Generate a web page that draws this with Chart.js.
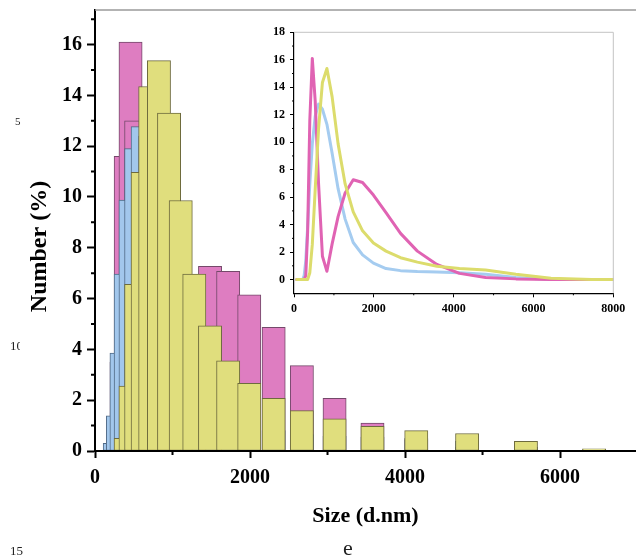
<!DOCTYPE html>
<html>
<head>
<meta charset="utf-8">
<script src="https://cdn.jsdelivr.net/npm/chart.js@4.4.1/dist/chart.umd.min.js"></script>
<style>
  body { margin: 0; background: #fff; }
  #wrap { position: relative; width: 636px; height: 556px; overflow: hidden; }
  #main { position: absolute; left: 0; top: 0; }
  #inset { position: absolute; left: 250px; top: 22px; }
  .stray { position: absolute; font-family: "Liberation Serif", serif; line-height: 1; color: #222; white-space: nowrap; overflow: hidden; }
</style>
</head>
<body>
<div id="wrap">
  <canvas id="main" width="636" height="556"></canvas>
  <canvas id="inset" width="380" height="300"></canvas>
  <div class="stray" style="left:15px; top:116px; font-size:11px;">5</div>
  <div class="stray" style="left:10px; top:339px; font-size:13px; width:10px;">10</div>
  <div class="stray" style="left:10px; top:544px; font-size:13px;">15</div>
  <div class="stray" style="left:343px; top:537px; font-size:22px;">e</div>
</div>
<script>
Chart.defaults.font.family = '"Liberation Serif", "Times New Roman", serif';
Chart.defaults.color = '#000';

// size classes (d.nm)
const sizes = [68.06, 78.82, 91.28, 105.7, 122.4, 141.8, 164.2, 190.1, 220.2,
    255.0, 295.3, 342.0, 396.1, 458.7, 531.2, 615.1, 712.4, 825.0, 955.4, 1106,
    1281, 1484, 1718, 1990, 2305, 2669, 3091, 3580, 4145, 4801, 5560, 6439, 7456, 8635];

// number (%) for the three samples
const numberPink = [0, 0, 0, 0, 0, 0, 0, 0, 0,
    0, 0.3, 3.5, 11.6, 16.1, 13.0, 7.0, 1.7, 0.6, 2.6, 4.6,
    6.3, 7.27, 7.07, 6.15, 4.87, 3.36, 2.07, 1.10, 0.45, 0.15, 0.05, 0, 0, 0];
const numberBlue = [0, 0, 0, 0, 0, 0, 0, 0, 0,
    0.3, 1.38, 3.85, 6.96, 9.88, 11.9, 12.77, 12.4, 11.3, 9.2, 6.6,
    4.4, 2.7, 1.8, 1.2, 0.8, 0.65, 0.58, 0.55, 0.5, 0.38, 0.15, 0, 0, 0];
const numberYellow = [0, 0, 0, 0, 0, 0, 0, 0, 0,
    0, 0, 0, 0.5, 2.56, 6.56, 10.97, 14.35, 15.37, 13.3, 9.86,
    6.96, 4.93, 3.55, 2.66, 2.07, 1.59, 1.27, 0.97, 0.80, 0.69, 0.38, 0.09, 0, 0];

// ticks
const mainXTicks = [0, 2000, 4000, 6000];
const mainXMinor = [1000, 3000, 5000];
const mainYTicks = [0, 2, 4, 6, 8, 10, 12, 14, 16];
const mainYMinor = [1, 3, 5, 7, 9, 11, 13, 15, 17];
const insetXTicks = [0, 2000, 4000, 6000, 8000];
const insetXMinor = [1000, 3000, 5000, 7000];
const insetYTicks = [0, 2, 4, 6, 8, 10, 12, 14, 16, 18];
const insetYMinor = [1, 3, 5, 7, 9, 11, 13, 15, 17];

const pink = { fill: '#de7dc1', edge: '#74496a', line: '#e063b3' };
const blue = { fill: '#a2c7ec', edge: '#506a86', line: '#a5ccf0' };
const yellow = { fill: '#e0de7d', edge: '#6e6b3e', line: '#dcdc6c' };

function points(vals) {
    return sizes.map((s, i) => ({ x: s, y: vals[i] }));
}

function barSet(vals, c, order) {
    return {
        data: points(vals).filter(p => p.y > 0),
        backgroundColor: c.fill,
        borderColor: c.edge,
        borderWidth: 1,
        borderSkipped: false,
        barThickness: 23.25,   // ~300 nm wide
        grouped: false,
        order: order
    };
}

function lineSet(vals, c, order) {
    return {
        data: points(vals),
        borderColor: c.line,
        borderWidth: 3,
        pointRadius: 0,
        fill: false,
        tension: 0,
        borderCapStyle: 'round',
        borderJoinStyle: 'round',
        order: order
    };
}

function setTicks(list) {
    return scale => { scale.ticks = list.map(v => ({ value: v })); };
}

// minor ticks, grey frame on top/right
function extras(xMinor, yMinor, len, width, frame) {
    return {
        id: 'extras',
        afterDraw(chart) {
            const { ctx, chartArea: a, scales: { x, y } } = chart;
            ctx.save();
            ctx.strokeStyle = frame.color;
            ctx.lineWidth = frame.width;
            ctx.beginPath();
            ctx.moveTo(a.left, a.top);
            ctx.lineTo(a.right, a.top);
            if (frame.right) ctx.lineTo(a.right, a.bottom);
            ctx.stroke();

            ctx.strokeStyle = '#000';
            ctx.lineWidth = width;
            ctx.beginPath();
            yMinor.forEach(v => {
                const p = y.getPixelForValue(v);
                ctx.moveTo(a.left - len, p);
                ctx.lineTo(a.left, p);
            });
            xMinor.forEach(v => {
                const p = x.getPixelForValue(v);
                ctx.moveTo(p, a.bottom);
                ctx.lineTo(p, a.bottom + len);
            });
            ctx.stroke();
            ctx.restore();
        }
    };
}

const yTitle = {
    id: 'yTitle',
    afterDraw(chart) {
        const ctx = chart.ctx;
        ctx.save();
        ctx.translate(39.5, 246.5);
        ctx.rotate(-Math.PI / 2);
        ctx.font = 'bold 24px "Liberation Serif", serif';
        ctx.fillStyle = '#000';
        ctx.textAlign = 'center';
        ctx.textBaseline = 'middle';
        ctx.fillText('Number (%)', 0, 0);
        ctx.restore();
    }
};

const bigFont = { size: 20, weight: 'bold' };

new Chart(document.getElementById('main'), {
    type: 'bar',
    data: {
        datasets: [
            barSet(numberPink, pink, 3),
            barSet(numberBlue, blue, 2),
            barSet(numberYellow, yellow, 1)
        ]
    },
    options: {
        responsive: false,
        animation: false,
        layout: { padding: { top: 10, left: 0, right: 0, bottom: 0 } },
        plugins: { legend: { display: false }, tooltip: { enabled: false } },
        scales: {
            x: {
                type: 'linear',
                min: 0,
                max: 6980,
                offset: false,
                afterBuildTicks: setTicks(mainXTicks),
                afterFit: s => { s.height = 105; s.paddingLeft = 0; s.paddingRight = 0; },
                ticks: { font: bigFont, padding: 8, maxRotation: 0, callback: v => v },
                grid: { offset: false, drawOnChartArea: false, tickLength: 7, tickWidth: 2, tickColor: '#000' },
                border: { color: '#000', width: 2, z: 1 },
                title: {
                    display: true,
                    text: 'Size (d.nm)',
                    font: { size: 22, weight: 'bold' },
                    padding: { top: 0, bottom: 26 }
                }
            },
            y: {
                min: 0,
                max: 17.36,
                afterBuildTicks: setTicks(mainYTicks),
                afterFit: s => { s.width = 95; s.paddingTop = 0; s.paddingBottom = 0; },
                ticks: { font: bigFont, padding: 5, callback: v => v },
                grid: { drawOnChartArea: false, tickLength: 8, tickWidth: 2, tickColor: '#000' },
                border: { color: '#000', width: 2, z: 1 }
            }
        }
    },
    plugins: [extras(mainXMinor, mainYMinor, 4, 2, { color: '#9a9a9a', width: 1.5, right: false }), yTitle]
});

const smallFont = { size: 12, weight: 'bold' };

new Chart(document.getElementById('inset'), {
    type: 'line',
    data: {
        datasets: [
            lineSet(numberBlue, blue, 3),
            lineSet(numberPink, pink, 2),
            lineSet(numberYellow, yellow, 1)
        ]
    },
    options: {
        responsive: false,
        animation: false,
        layout: { padding: { top: 10.3, left: 0, right: 16.7, bottom: 0 } },
        plugins: { legend: { display: false }, tooltip: { enabled: false } },
        scales: {
            x: {
                type: 'linear',
                min: 0,
                max: 8000,
                afterBuildTicks: setTicks(insetXTicks),
                afterFit: s => { s.height = 28.7; s.paddingLeft = 0; s.paddingRight = 0; },
                ticks: { font: smallFont, padding: 4.5, maxRotation: 0, callback: v => v },
                grid: { drawOnChartArea: false, tickLength: 4, tickWidth: 1, tickColor: '#000' },
                border: { color: '#000', width: 1.2, z: 1 }
            },
            y: {
                min: -1,
                max: 18,
                afterBuildTicks: setTicks(insetYTicks),
                afterFit: s => { s.width = 44; s.paddingTop = 0; s.paddingBottom = 0; },
                ticks: { font: smallFont, padding: 5, callback: v => v },
                grid: { drawOnChartArea: false, tickLength: 4, tickWidth: 1, tickColor: '#000' },
                border: { color: '#000', width: 1.2, z: 1 }
            }
        }
    },
    plugins: [extras(insetXMinor, insetYMinor, 2, 1, { color: '#c4c4c4', width: 1, right: true })]
});
</script>
</body>
</html>
